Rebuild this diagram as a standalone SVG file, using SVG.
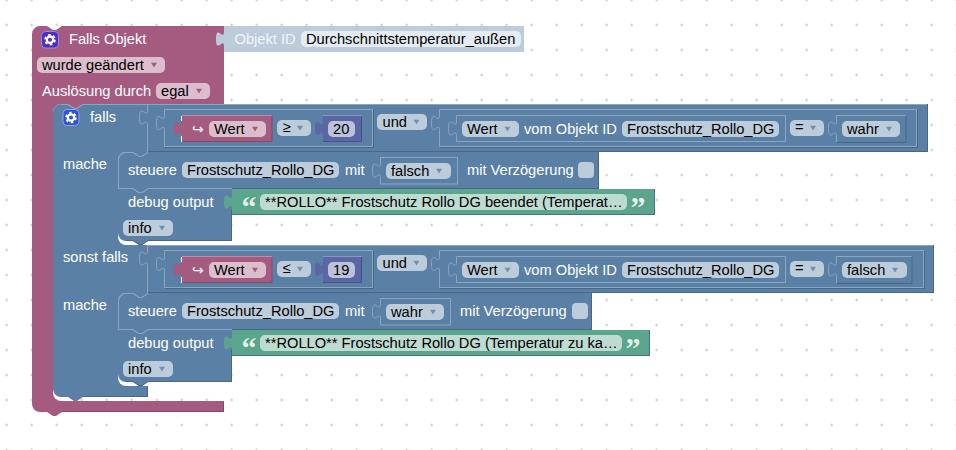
<svg xmlns="http://www.w3.org/2000/svg" width="956" height="450" viewBox="0 0 956 450">
<style>
text{font-family:"Liberation Sans",Arial,sans-serif;font-size:14.67px}
.w{fill:#fff}.k{fill:#000}.oid{fill:#f2f5f8}
.q{font-family:"Liberation Serif",serif;font-size:30px;font-weight:700;fill:#fff;fill-opacity:.85}
.blue{fill:#5b80a5}.pur{fill:#a55b80}.grn{fill:#5ba58c}.num{fill:#5b67a5}.dis{fill:#bdccdb}
.fb{fill:#bdccdb}.fp{fill:#dbbdcc}.fg{fill:#bddbd1}.fn{fill:#bdc2db}.fd{fill:#e5ebf1}
.ab{fill:#6f90b0}.ap{fill:#a55b80}
.l{fill:none;stroke:#8ca6c0}.d{fill:none;stroke:#496684}
.lp{fill:none;stroke:#c08ca6}.dp{fill:none;stroke:#844966}
.lg{fill:none;stroke:#8cc0ae}.dg{fill:none;stroke:#497084}
.ln{fill:none;stroke:#8c95c0}.dn{fill:none;stroke:#495284}
</style>
<defs>
<pattern id="grid" patternUnits="userSpaceOnUse" x="-5.8" y="-12.5" width="25" height="25">
<path d="M11,12.5h3M12.5,11v3" stroke="#ccc" stroke-width="1" fill="none"/>
</pattern>
<path id="ar" d="M-3,-2.2H3L0,2.4z"/>
<g id="gear">
<circle r="3.2" fill="none" stroke="#fff" stroke-width="2.3"/>
<circle r="4.9" fill="none" stroke="#fff" stroke-width="1.8" stroke-dasharray="2.6 2.53"/>
</g>
</defs>
<rect width="956" height="450" fill="#fff"/>
<rect width="956" height="450" fill="url(#grid)"/>

<g id="event-block">
<path class="pur" d="M32,34a8,8 0 0 1 8,-8h7l6,4 3,0 6,-4H224V104H83l-6,4 -3,0 -6,-4H61a8,8 0 0 0 -8,8V393a8,8 0 0 0 8,8H224V412H62l-6,4 -3,0 -6,-4H40a8,8 0 0 1 -8,-8z"/>
<path class="dp" d="M223.500,401.500V411.500H62"/>
<rect x="41.500" y="31.500" width="17" height="16.500" rx="4" fill="#4a30c4" stroke="#9d8bd6"/>
<use href="#gear" x="50" y="39.700"/>
<text class="w" x="69" y="44">Falls Objekt</text>
<rect class="fp" x="37" y="57" width="128" height="16" rx="5"/>
<text class="k" x="42" y="70">wurde geändert</text>
<use class="ap" href="#ar" x="154" y="65"/>
<text class="w" x="42" y="96">Auslösung durch</text>
<rect class="fp" x="156" y="83" width="54" height="16" rx="5"/>
<text class="k" x="161" y="96">egal</text>
<use class="ap" href="#ar" x="199" y="91"/>
</g>

<g id="object-id">
<path class="dis" d="M224,26H524V52H224V46.500c0,-10 -8,8 -8,-7.500s8,2.500 8,-7.500z"/>
<text class="oid" x="234.500" y="44">Objekt ID</text>
<rect class="fd" x="301" y="31" width="220" height="16" rx="5"/>
<text class="k" x="306" y="44">Durchschnittstemperatur_außen</text>
</g>

<g id="if-block">
<path class="blue" d="M53,112a8,8 0 0 1 8,-8h7l6,4 3,0 6,-4H148V152l-6,4 -3,0 -6,-4H126a8,8 0 0 0 -8,8V237a8,8 0 0 0 8,8H148V293l-6,4 -3,0 -6,-4H126a8,8 0 0 0 -8,8V378a8,8 0 0 0 8,8H148V397H83l-6,4 -3,0 -6,-4H61a8,8 0 0 1 -8,-8z"/>
<path class="d" d="M147.500,386V396.500H83"/>
<path class="l" d="M61,104.500H68l6,4 3,0 6,-4H148"/>
<rect x="63" y="109.500" width="16" height="16" rx="4" fill="#2d54d6" stroke="#8ca6e0"/>
<use href="#gear" x="71" y="117.500"/>
<text class="w" x="90" y="122">falls</text>
<text class="w" x="63" y="169">mache</text>
<text class="w" x="63" y="262">sonst falls</text>
<text class="w" x="63" y="310">mache</text>
</g>

<g id="condition-1">
<rect class="blue" x="148" y="104" width="780" height="48"/>
<path class="l" d="M148,104.500H927"/>
<path class="d" d="M148,151.500H927.500V104"/>
<path class="l" d="M147.500,152V125c0,-10 -8,8 -8,-7.500s8,2.500 8,-7.500V104"/>
<path class="l" d="M164.500,146.500V130.500c0,-10 -8,8 -8,-7.500s8,2.500 8,-7.500V109.500H372.500V146.500z"/>
<path class="l" d="M439.500,146.500V130.500c0,-10 -8,8 -8,-7.500s8,2.500 8,-7.500V109.500H916.500V146.500z"/>
<path class="d" d="M165,147.500H373.500V110M440,147.500H917.500V110"/>
<path class="l" d="M456.500,141.500V136c0,-10 -8,8 -8,-7.500s8,2.500 8,-7.500V115.500H785.500V141.500z"/>
<path class="l" d="M836.500,142V136c0,-10 -8,8 -8,-7.500s8,2.500 8,-7.500V115.500H905.500"/>
<path class="d" d="M906,116V142.500H837"/>
<path class="pur" d="M182,116H272V142H182V136c0,-10 -8,8 -8,-7.500s8,2.500 8,-7.500z"/>
<path class="lp" d="M182,115.500H272"/><path class="dp" d="M182,141.500H272V116"/>
<path d="M181.500,116V121M181.500,136V142" stroke="#fff" fill="none"/>
<text class="w" x="192" y="134" style="font-family:'DejaVu Sans',sans-serif;font-size:14px">↪</text>
<rect class="fp" x="209" y="121" width="57" height="16" rx="5"/>
<text class="k" x="214" y="134">Wert</text>
<use class="ap" href="#ar" x="255" y="129"/>
<rect class="fb" x="277" y="120" width="34" height="16" rx="5"/>
<text class="k" x="282.500" y="132">≥</text>
<use class="ab" href="#ar" x="300" y="128"/>
<path class="num" d="M323,116H362V142H323V136c0,-10 -8,8 -8,-7.500s8,2.500 8,-7.500z"/>
<path class="ln" d="M323,115.500H362"/><path class="dn" d="M323,141.500H361.500V116"/>
<rect class="fn" x="328" y="121" width="27" height="16" rx="5"/>
<text class="k" x="333" y="134">20</text>
<rect class="fb" x="377" y="114" width="50" height="16" rx="5"/>
<text class="k" x="382.500" y="127">und</text>
<use class="ab" href="#ar" x="416.500" y="122"/>
<rect class="fb" x="462" y="121" width="57" height="16" rx="5"/>
<text class="k" x="467" y="134">Wert</text>
<use class="ab" href="#ar" x="507.500" y="129"/>
<text class="w" x="524" y="134">vom Objekt ID</text>
<rect class="fb" x="622" y="121" width="157" height="16" rx="5"/>
<text class="k" x="627" y="134">Frostschutz_Rollo_DG</text>
<rect class="fb" x="790" y="120" width="34" height="16" rx="5"/>
<text class="k" x="795" y="132">=</text>
<use class="ab" href="#ar" x="813" y="128"/>
<rect class="fb" x="842" y="121" width="58" height="16" rx="5"/>
<text class="k" x="847" y="134">wahr</text>
<use class="ab" href="#ar" x="889" y="129"/>
</g>

<g id="set-1">
<path class="blue" d="M118,160a8,8 0 0 1 8,-8h7l6,4 3,0 6,-4H599V189H148l-6,4 -3,0 -6,-4H118z"/>
<path class="l" d="M118.500,189V160a8,8 0 0 1 7.500,-7.500h7l6,4 3,0 6,-4"/>
<path class="d" d="M598.500,152V188.500H232"/>
<path class="l" d="M380.500,184V178c0,-10 -8,8 -8,-7.500s8,2.500 8,-7.500V157.500H457.500V184H380.500"/>
<text class="w" x="128" y="175">steuere</text>
<rect class="fb" x="182" y="162" width="157" height="16" rx="5"/>
<text class="k" x="187" y="175">Frostschutz_Rollo_DG</text>
<text class="w" x="345" y="175">mit</text>
<rect class="fb" x="386" y="163" width="65" height="16" rx="5"/>
<text class="k" x="391" y="176">falsch</text>
<use class="ab" href="#ar" x="439" y="171"/>
<text class="w" x="467" y="175">mit Verzögerung</text>
<rect class="fb" x="578" y="162" width="16" height="16" rx="4"/>
</g>

<g id="debug-1">
<path class="blue" d="M118,189H133l6,4 3,0 6,-4H232V241H148l-6,4 -3,0 -6,-4H126a8,8 0 0 1 -8,-8z"/>
<path class="l" d="M118,188.500H133l6,4 3,0 6,-4H232"/>
<path class="d" d="M231.500,209V240.500H148l-6,4 -3,0 -6,-4H126"/>
<text class="w" x="128" y="207">debug output</text>
<rect class="fb" x="123" y="220" width="50" height="16" rx="5"/>
<text class="k" x="128" y="233">info</text>
<use class="ab" href="#ar" x="162" y="228"/>
</g>

<g id="text-1">
<path class="grn" d="M232,189H655V215H232V209.500c0,-10 -8,8 -8,-7.500s8,2.500 8,-7.500z"/>
<path class="dg" d="M654.500,189V214.500H232"/>
<text class="q" x="241.500" y="217">“</text>
<rect class="fg" x="260" y="194" width="367" height="16" rx="5"/>
<text class="k" x="265" y="207">**ROLLO** Frostschutz Rollo DG beendet (Temperat…</text>
<text class="q" x="630.500" y="217">”</text>
</g>

<g id="condition-2">
<rect class="blue" x="148" y="245" width="786" height="48"/>
<path class="l" d="M148,245.500H933"/>
<path class="d" d="M148,292.500H933.500V245"/>
<path class="l" d="M147.500,293V266c0,-10 -8,8 -8,-7.500s8,2.500 8,-7.500V245"/>
<path class="l" d="M164.500,287.500V271.500c0,-10 -8,8 -8,-7.500s8,2.500 8,-7.500V250.500H372.500V287.500z"/>
<path class="l" d="M439.500,287.500V271.500c0,-10 -8,8 -8,-7.500s8,2.500 8,-7.500V250.500H923.500V287.500z"/>
<path class="d" d="M165,288.500H373.500V251M440,288.500H924.500V251"/>
<path class="l" d="M456.500,282.500V277c0,-10 -8,8 -8,-7.500s8,2.500 8,-7.500V256.500H785.500V282.500z"/>
<path class="l" d="M836.500,283V277c0,-10 -8,8 -8,-7.500s8,2.500 8,-7.500V256.500H911.500"/>
<path class="d" d="M912,257V283.500H837"/>
<path class="pur" d="M182,257H272V283H182V277c0,-10 -8,8 -8,-7.500s8,2.500 8,-7.500z"/>
<path class="lp" d="M182,256.500H272"/><path class="dp" d="M182,282.500H272V257"/>
<path d="M181.500,257V262M181.500,277V283" stroke="#fff" fill="none"/>
<text class="w" x="192" y="275" style="font-family:'DejaVu Sans',sans-serif;font-size:14px">↪</text>
<rect class="fp" x="209" y="262" width="57" height="16" rx="5"/>
<text class="k" x="214" y="275">Wert</text>
<use class="ap" href="#ar" x="255" y="270"/>
<rect class="fb" x="277" y="261" width="34" height="16" rx="5"/>
<text class="k" x="282.500" y="273">≤</text>
<use class="ab" href="#ar" x="300" y="269"/>
<path class="num" d="M323,257H362V283H323V277c0,-10 -8,8 -8,-7.500s8,2.500 8,-7.500z"/>
<path class="ln" d="M323,256.500H362"/><path class="dn" d="M323,282.500H361.500V257"/>
<rect class="fn" x="328" y="262" width="27" height="16" rx="5"/>
<text class="k" x="333" y="275">19</text>
<rect class="fb" x="377" y="255" width="50" height="16" rx="5"/>
<text class="k" x="382.500" y="268">und</text>
<use class="ab" href="#ar" x="416.500" y="263"/>
<rect class="fb" x="462" y="262" width="57" height="16" rx="5"/>
<text class="k" x="467" y="275">Wert</text>
<use class="ab" href="#ar" x="507.500" y="270"/>
<text class="w" x="524" y="275">vom Objekt ID</text>
<rect class="fb" x="622" y="262" width="157" height="16" rx="5"/>
<text class="k" x="627" y="275">Frostschutz_Rollo_DG</text>
<rect class="fb" x="790" y="261" width="34" height="16" rx="5"/>
<text class="k" x="795" y="273">=</text>
<use class="ab" href="#ar" x="813" y="269"/>
<rect class="fb" x="842" y="262" width="65" height="16" rx="5"/>
<text class="k" x="847" y="275">falsch</text>
<use class="ab" href="#ar" x="895" y="270"/>
</g>

<g id="set-2">
<path class="blue" d="M118,301a8,8 0 0 1 8,-8h7l6,4 3,0 6,-4H592V330H148l-6,4 -3,0 -6,-4H118z"/>
<path class="l" d="M118.500,330V301a8,8 0 0 1 7.500,-7.500h7l6,4 3,0 6,-4"/>
<path class="d" d="M591.500,293V329.500H232"/>
<path class="l" d="M380.500,325V319c0,-10 -8,8 -8,-7.500s8,2.500 8,-7.500V298.500H450.500V325H380.500"/>
<text class="w" x="128" y="316">steuere</text>
<rect class="fb" x="182" y="303" width="157" height="16" rx="5"/>
<text class="k" x="187" y="316">Frostschutz_Rollo_DG</text>
<text class="w" x="345" y="316">mit</text>
<rect class="fb" x="386" y="304" width="58" height="16" rx="5"/>
<text class="k" x="391" y="317">wahr</text>
<use class="ab" href="#ar" x="433" y="312"/>
<text class="w" x="460" y="316">mit Verzögerung</text>
<rect class="fb" x="572" y="303" width="16" height="16" rx="4"/>
</g>

<g id="debug-2">
<path class="blue" d="M118,330H133l6,4 3,0 6,-4H232V382H148l-6,4 -3,0 -6,-4H126a8,8 0 0 1 -8,-8z"/>
<path class="l" d="M118,329.500H133l6,4 3,0 6,-4H232"/>
<path class="d" d="M231.500,350V381.500H148l-6,4 -3,0 -6,-4H126"/>
<text class="w" x="128" y="348">debug output</text>
<rect class="fb" x="123" y="361" width="50" height="16" rx="5"/>
<text class="k" x="128" y="374">info</text>
<use class="ab" href="#ar" x="162" y="369"/>
</g>

<g id="text-2">
<path class="grn" d="M232,330H650V356H232V350.500c0,-10 -8,8 -8,-7.500s8,2.500 8,-7.500z"/>
<path class="dg" d="M649.500,330V355.500H232"/>
<text class="q" x="241.500" y="358">“</text>
<rect class="fg" x="260" y="335" width="362" height="16" rx="5"/>
<text class="k" x="265" y="348">**ROLLO** Frostschutz Rollo DG (Temperatur zu ka…</text>
<text class="q" x="625.500" y="358">”</text>
</g>
</svg>
